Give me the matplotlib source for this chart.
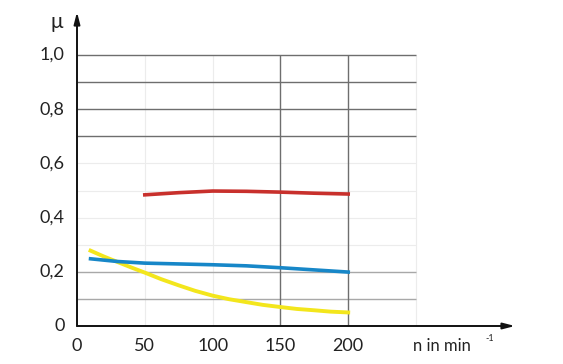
import matplotlib.pyplot as plt
import numpy as np

# values
n_red = [50, 75, 100, 125, 150, 175, 200]
mu_red = [0.484, 0.492, 0.498, 0.497, 0.494, 0.490, 0.487]

n_blue = [10, 30, 50, 75, 100, 125, 150, 175, 200]
mu_blue = [0.248, 0.238, 0.232, 0.229, 0.226, 0.222, 0.215, 0.207, 0.199]

n_yellow = [10, 20, 30, 40, 50, 62, 75, 87, 100, 112, 125, 137, 150, 162, 175, 187, 200]
mu_yellow = [0.278, 0.256, 0.236, 0.216, 0.197, 0.173, 0.150, 0.130, 0.112, 0.099,
             0.088, 0.078, 0.070, 0.063, 0.058, 0.053, 0.050]

x_ticks = [0, 50, 100, 150, 200]
y_ticks = [0, 0.2, 0.4, 0.6, 0.8, 1.0]
y_labels = ["0", "0,2", "0,4", "0,6", "0,8", "1,0"]

plt.rcParams['font.family'] = ['Lato', 'DejaVu Sans']

fig = plt.figure(figsize=(5.63, 3.64), dpi=100)
W, H = 563, 364
x0, x1 = 77, 515
y0, y1 = 326, 12
ax = fig.add_axes([x0 / W, 1 - y0 / H, (x1 - x0) / W, (y0 - y1) / H])
ax.set_xlim(0, (x1 - x0) / 1.356)
ax.set_ylim(0, (y0 - y1) / 271)
ax.axis('off')

# grid
dark = '#6e6e6e'
mid = '#a8a8a8'
light = '#ececec'
for y in [0.3, 0.4, 0.5, 0.6]:
    ax.hlines(y, 0, 250, color=light, lw=0.8, zorder=1)
for x in [50, 100, 250]:
    ax.vlines(x, 0, 1.0, color=light, lw=0.8, zorder=1)
for y in [0.1, 0.2]:
    ax.hlines(y, 0, 250, color=mid, lw=1.0, zorder=2)
for y in [0.7, 0.8, 0.9, 1.0]:
    ax.hlines(y, 0, 250, color=dark, lw=1.0, zorder=2)
for x in [150, 200]:
    ax.vlines(x, 0, 1.0, color=dark, lw=1.0, zorder=2)

# curves
ax.plot(n_yellow, mu_yellow, color='#f3e61c', lw=2.8, zorder=3)
ax.plot(n_blue, mu_blue, color='#1787c8', lw=2.6, zorder=4)
ax.plot(n_red, mu_red, color='#c8302c', lw=2.6, zorder=4)

# axes with arrows
arrow = dict(arrowstyle='-|>,head_length=0.7,head_width=0.18', color='#111111', lw=1.4,
             shrinkA=0, shrinkB=0)
ax.annotate('', xy=(1, 0), xytext=(0, 0), xycoords='axes fraction',
            arrowprops=arrow, annotation_clip=False)
ax.annotate('', xy=(0, 1), xytext=(0, 0), xycoords='axes fraction',
            arrowprops=arrow, annotation_clip=False)

# tick labels
txt = dict(fontsize=13, color='#222222')
for yv, lab in zip(y_ticks, y_labels):
    ax.text(-9, yv, lab, ha='right', va='center', **txt)
for xv in x_ticks:
    ax.text(xv, -0.075, str(xv), ha='center', va='center', **txt)
ax.text(248, -0.075, 'n in min', ha='left', va='center', fontsize=12, color='#222222')
ax.text(301, -0.045, '-1', ha='left', va='center', fontsize=6.5, color='#222222')
ax.text(-15, 1.12, 'μ', ha='center', va='center', fontsize=15, color='#222222')

fig.savefig('out.png', dpi=100)
